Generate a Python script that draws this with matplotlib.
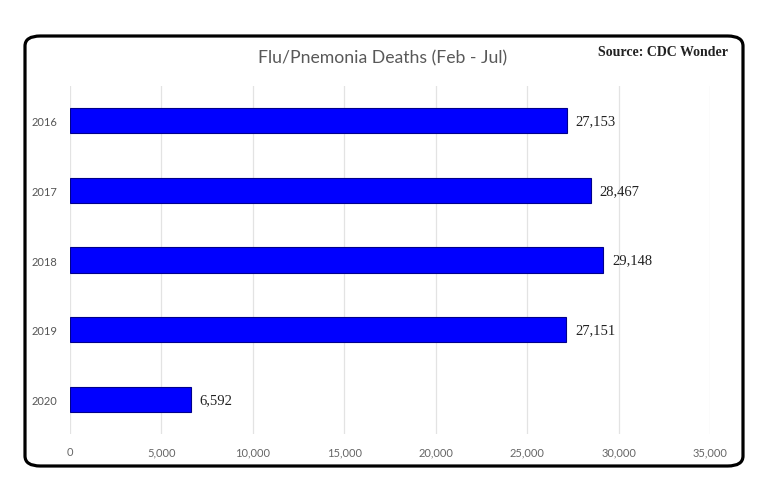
import matplotlib
matplotlib.use("Agg")
import matplotlib.pyplot as plt
from matplotlib.patches import FancyBboxPatch

# data
years = ["2016", "2017", "2018", "2019", "2020"]
deaths = [27153, 28467, 29148, 27151, 6592]
xticks = [0, 5000, 10000, 15000, 20000, 25000, 30000, 35000]

W, H = 768, 502
fig = plt.figure(figsize=(W / 100, H / 100), dpi=100)
fig.patch.set_facecolor("white")

# rounded black frame around the chart
frame = FancyBboxPatch((25 / W, 1 - 467 / H), (743 - 25) / W, (467 - 37) / H,
                       boxstyle="round,pad=0,rounding_size=0.02",
                       transform=fig.transFigure, fill=False,
                       edgecolor="black", linewidth=2.3)
fig.patches.append(frame)

ax = fig.add_axes([70 / W, 1 - 435 / H, (710 - 70) / W, (435 - 87) / H])

ypos = list(range(len(years)))
ax.barh(ypos, deaths, height=0.36, color="#0000ff", edgecolor="#00008b", linewidth=0.8, zorder=3)

for y, v in zip(ypos, deaths):
    ax.text(v + 500, y, f"{v:,}", va="center", ha="left",
            fontsize=10.5, family="Liberation Serif", color="#222222")

ax.set_xlim(0, 35000)
ax.set_ylim(len(years) - 0.5, -0.5)
ax.set_xticks(xticks)
ax.set_xticklabels([f"{t:,}" for t in xticks], fontsize=8, family="Lato", color="#666666")
ax.set_yticks(ypos)
ax.set_yticklabels(years, fontsize=8, family="Lato", color="#555555")
ax.tick_params(axis="both", length=0)
ax.tick_params(axis="x", pad=9)
ax.tick_params(axis="y", pad=9)
ax.grid(axis="x", color="#e3e3e3", linewidth=0.9, zorder=0)
for s in ax.spines.values():
    s.set_visible(False)

fig.text(383 / W, 1 - 58 / H, "Flu/Pnemonia Deaths (Feb - Jul)", ha="center", va="center",
         fontsize=12.7, family="Lato", color="#595959")
fig.text(728 / W, 1 - 52 / H, "Source: CDC Wonder", ha="right", va="center",
         fontsize=10, family="Liberation Serif", fontweight="bold", color="#222222")

fig.savefig("out.png", dpi=100)
